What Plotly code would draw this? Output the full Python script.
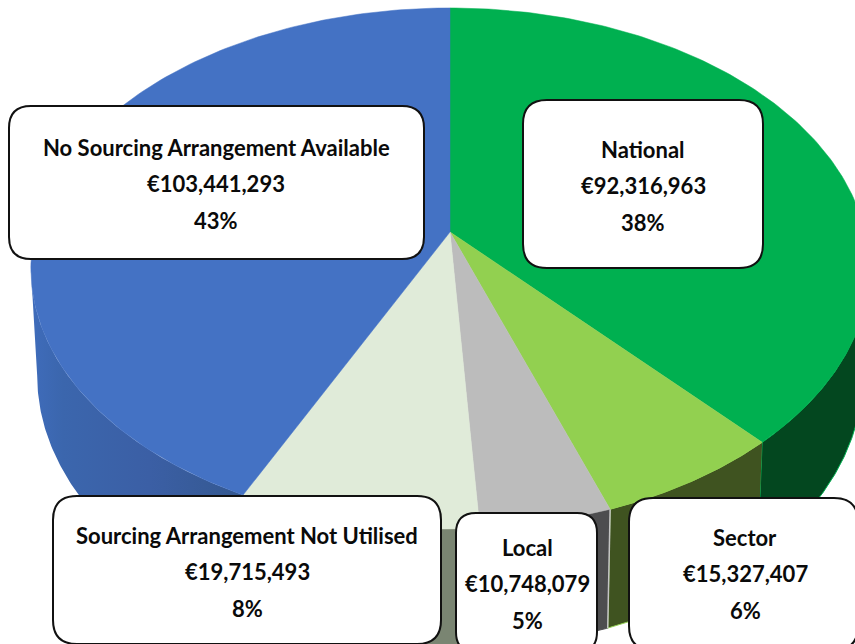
import numpy as np
import plotly.graph_objects as go

# Data, clockwise from the top of the pie
categories = ["National", "Sector", "Local", "Sourcing Arrangement Not Utilised", "No Sourcing Arrangement Available"]
values = [92316963, 15327407, 10748079, 19715493, 103441293]
percent_labels = ["38%", "6%", "5%", "8%", "43%"]

top_colors = ["#00b050", "#92d050", "#bcbcbc", "#e0ebd9", "#4472c4"]
side_colors = ["#03471f", "#3f5320", "#4d4d4f", "#7a8572", "#3a62a8"]
edge_colors = ["#00b050", "#92d050", "#4d4d4f", "#7a8572", "rgba(0,0,0,0)"]

# Projection of the tilted pie into the page
CX, CY = 450.0, 232.0
RX, RY, P = 415.0, 255.4, 0.14
SIL = np.arccos(-P)  # angle at which the rim reaches its widest point


def rim(theta):
    s = 1.0 / (1.0 + P * np.cos(theta))
    return CX + RX * np.sin(theta) * s, CY - RY * np.cos(theta) * s


def lower(x, y):
    return CX + (x - CX) * 0.985, CY + 105 + (y - CY) * 1.05


fig = go.Figure()
fractions = np.array(values, dtype=float) / sum(values)
edges = np.concatenate([[0.0], np.cumsum(fractions)]) * 2 * np.pi

# side walls (front-facing part of the rim only)
for i, name in enumerate(categories):
    a = max(edges[i], SIL)
    b = min(edges[i + 1], 2 * np.pi - SIL)
    t = np.linspace(a, b, 120)
    x, y = rim(t)
    lx, ly = lower(x, y)
    px = np.concatenate([x, lx[::-1]])
    py = np.concatenate([y, ly[::-1]])
    kw = dict(fillcolor=side_colors[i])
    if i == 4:
        kw = dict(fillgradient=dict(type="horizontal",
                                    colorscale=[[0, "#3f6cbb"], [0.15, "#3b66ad"], [0.55, "#3b5fa5"], [1, "#34588f"]]))
    fig.add_trace(go.Scatter(x=px, y=py, mode="lines", fill="toself", name=name + " side",
                             line=dict(color=edge_colors[i], width=1), hoverinfo="skip", **kw))

# thin light edge between the Local and Sector walls
ex, ey = rim(edges[2])
lx2, ly2 = lower(ex, ey)
fig.add_trace(go.Scatter(x=[ex, lx2], y=[ey, ly2], mode="lines", line=dict(color="#c4c4c4", width=1.5), hoverinfo="skip"))

# top faces
for i, name in enumerate(categories):
    t = np.linspace(edges[i], edges[i + 1], 160)
    x, y = rim(t)
    px = np.concatenate([[CX], x, [CX]])
    py = np.concatenate([[CY], y, [CY]])
    fig.add_trace(go.Scatter(x=px, y=py, mode="lines", fill="toself", fillcolor=top_colors[i], name=name,
                             line=dict(color=top_colors[i], width=0.5), hoverinfo="name"))


def rounded(x0, y0, x1, y1, r):
    return (f"M{x0+r},{y0} L{x1-r},{y0} Q{x1},{y0} {x1},{y0+r} L{x1},{y1-r} Q{x1},{y1} {x1-r},{y1} "
            f"L{x0+r},{y1} Q{x0},{y1} {x0},{y1-r} L{x0},{y0+r} Q{x0},{y0} {x0+r},{y0} Z")


boxes = {
    "National": (523, 100, 763, 268, 24, 643, 149),
    "Sector": (629, 498, 858, 650, 24, 745, 537),
    "Local": (456, 513, 597, 652, 20, 527, 547),
    "Sourcing Arrangement Not Utilised": (53, 496, 441, 644, 24, 247, 535),
    "No Sourcing Arrangement Available": (9, 106, 424, 259, 22, 216, 147),
}
shapes, annots = [], []
LINE = 36.7
for name, val, pct in zip(categories, values, percent_labels):
    x0, y0, x1, y1, r, tx, ty = boxes[name]
    shapes.append(dict(type="path", path=rounded(x0, y0, x1, y1, r), fillcolor="white",
                       line=dict(color="#111111", width=2), layer="above"))
    for k, line in enumerate([name, f"€{val:,}", pct]):
        annots.append(dict(x=tx, y=ty + k * LINE, text=line, showarrow=False, xanchor="center", yanchor="middle",
                           font=dict(family="Lato", size=22, weight=700, color="#0a0a0a")))

fig.update_layout(
    width=855, height=644, margin=dict(l=0, r=0, t=0, b=0), showlegend=False,
    paper_bgcolor="white", plot_bgcolor="white", shapes=shapes, annotations=annots,
    xaxis=dict(range=[0, 855], visible=False, fixedrange=True),
    yaxis=dict(range=[644, 0], visible=False, fixedrange=True),
)
fig.write_html("out.html", post_script="document.body.style.margin='0';", config={"displayModeBar": False})
